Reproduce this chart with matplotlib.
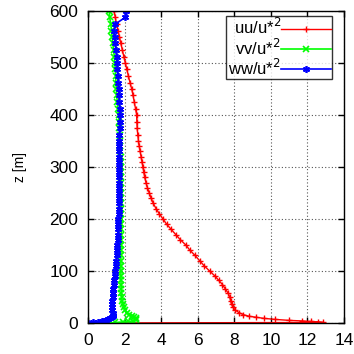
import matplotlib
matplotlib.use("Agg")
import matplotlib.pyplot as plt

# height levels [m]
z = [0, 1, 2, 3, 4, 5, 7, 9, 11, 13, 16, 20, 25, 30, 36, 42, 50, 58, 66, 74,
     82, 90, 100, 110, 120, 130, 140, 150, 160, 170, 180, 190, 200, 210, 220,
     230, 240, 250, 260, 270, 280, 290, 300, 310, 320, 330, 340, 350, 362,
     374, 387, 400, 412, 425, 438, 450, 462, 475, 488, 500, 512, 525, 538,
     550, 562, 575, 588, 600]

uu = [0.0, 12.85, 12.6, 12.2, 11.7, 11.0, 10.2, 9.6, 9.2, 8.8, 8.5, 8.25,
      8.05, 7.93, 7.85, 7.8, 7.75, 7.65, 7.5, 7.35, 7.15, 6.95, 6.65, 6.35,
      6.1, 5.85, 5.57, 5.35, 5.05, 4.8, 4.55, 4.3, 4.1, 3.9, 3.72, 3.57,
      3.45, 3.35, 3.25, 3.17, 3.1, 3.05, 3.0, 2.95, 2.9, 2.85, 2.8, 2.76,
      2.72, 2.69, 2.67, 2.66, 2.6, 2.53, 2.46, 2.39, 2.3, 2.21, 2.12, 2.04,
      1.96, 1.88, 1.79, 1.72, 1.64, 1.56, 1.49, 1.42]

vv = [1.1, 1.5, 1.9, 2.2, 2.45, 2.6, 2.65, 2.6, 2.5, 2.4, 2.25, 2.12, 2.02,
      1.95, 1.9, 1.87, 1.84, 1.83, 1.82, 1.81, 1.8, 1.8, 1.8, 1.8, 1.8, 1.8,
      1.8, 1.81, 1.81, 1.82, 1.82, 1.83, 1.83, 1.83, 1.83, 1.83, 1.83, 1.82,
      1.82, 1.82, 1.81, 1.81, 1.8, 1.79, 1.78, 1.77, 1.76, 1.75, 1.73, 1.71,
      1.69, 1.67, 1.64, 1.6, 1.57, 1.55, 1.53, 1.51, 1.49, 1.47, 1.44, 1.4,
      1.36, 1.32, 1.28, 1.25, 1.18, 1.17]

ww = [0.0, 0.3, 0.55, 0.75, 0.9, 1.0, 1.12, 1.22, 1.3, 1.35, 1.37, 1.35,
      1.33, 1.32, 1.32, 1.33, 1.34, 1.36, 1.39, 1.42, 1.44, 1.46, 1.48,
      1.51, 1.54, 1.56, 1.58, 1.6, 1.62, 1.63, 1.64, 1.65, 1.66, 1.67, 1.68,
      1.68, 1.69, 1.7, 1.7, 1.71, 1.71, 1.71, 1.71, 1.71, 1.71, 1.71, 1.71,
      1.71, 1.72, 1.73, 1.74, 1.75, 1.73, 1.71, 1.69, 1.67, 1.65, 1.63, 1.61,
      1.6, 1.57, 1.53, 1.49, 1.45, 1.42, 1.5, 2.05, 2.1]

labels = ["uu/u*$^2$", "vv/u*$^2$", "ww/u*$^2$"]

plt.rcParams['font.family'] = ['Liberation Sans', 'DejaVu Sans']

fig = plt.figure(figsize=(3.54, 3.54), dpi=100)
ax = fig.add_axes([0.2486, 0.0876, 0.7232, 0.8814])

ax.plot(uu, z, color="#ff0000", lw=1, marker="+", ms=5, mew=1, label=labels[0])
ax.plot(vv, z, color="#00ff00", lw=1.2, marker="x", ms=4, mew=1.2, label=labels[1])
ax.plot(ww, z, color="#0000ff", lw=1.2, marker=(6, 2, 0), ms=5, mew=1.2, label=labels[2])

ax.set_xlim(0, 14)
ax.set_ylim(0, 600)
ax.set_xticks(range(0, 15, 2))
ax.set_yticks(range(0, 601, 100))
ax.tick_params(direction="in", top=True, right=True, length=4, width=1,
               labelsize=12.5, pad=7)
ax.grid(True, color="#555555", linestyle=(0, (1, 2)), linewidth=0.8)
for s in ax.spines.values():
    s.set_linewidth(1)
ax.set_ylabel("z [m]", fontsize=10, labelpad=16)

leg = ax.legend(loc="upper right", bbox_to_anchor=(0.955, 0.985),
                markerfirst=False, fontsize=12, frameon=True, fancybox=False,
                edgecolor="black", handlelength=3.0, handletextpad=0.0,
                borderpad=0.1, labelspacing=0.0, borderaxespad=0)
leg.get_frame().set_linewidth(1)

fig.savefig("out.png", dpi=100)
